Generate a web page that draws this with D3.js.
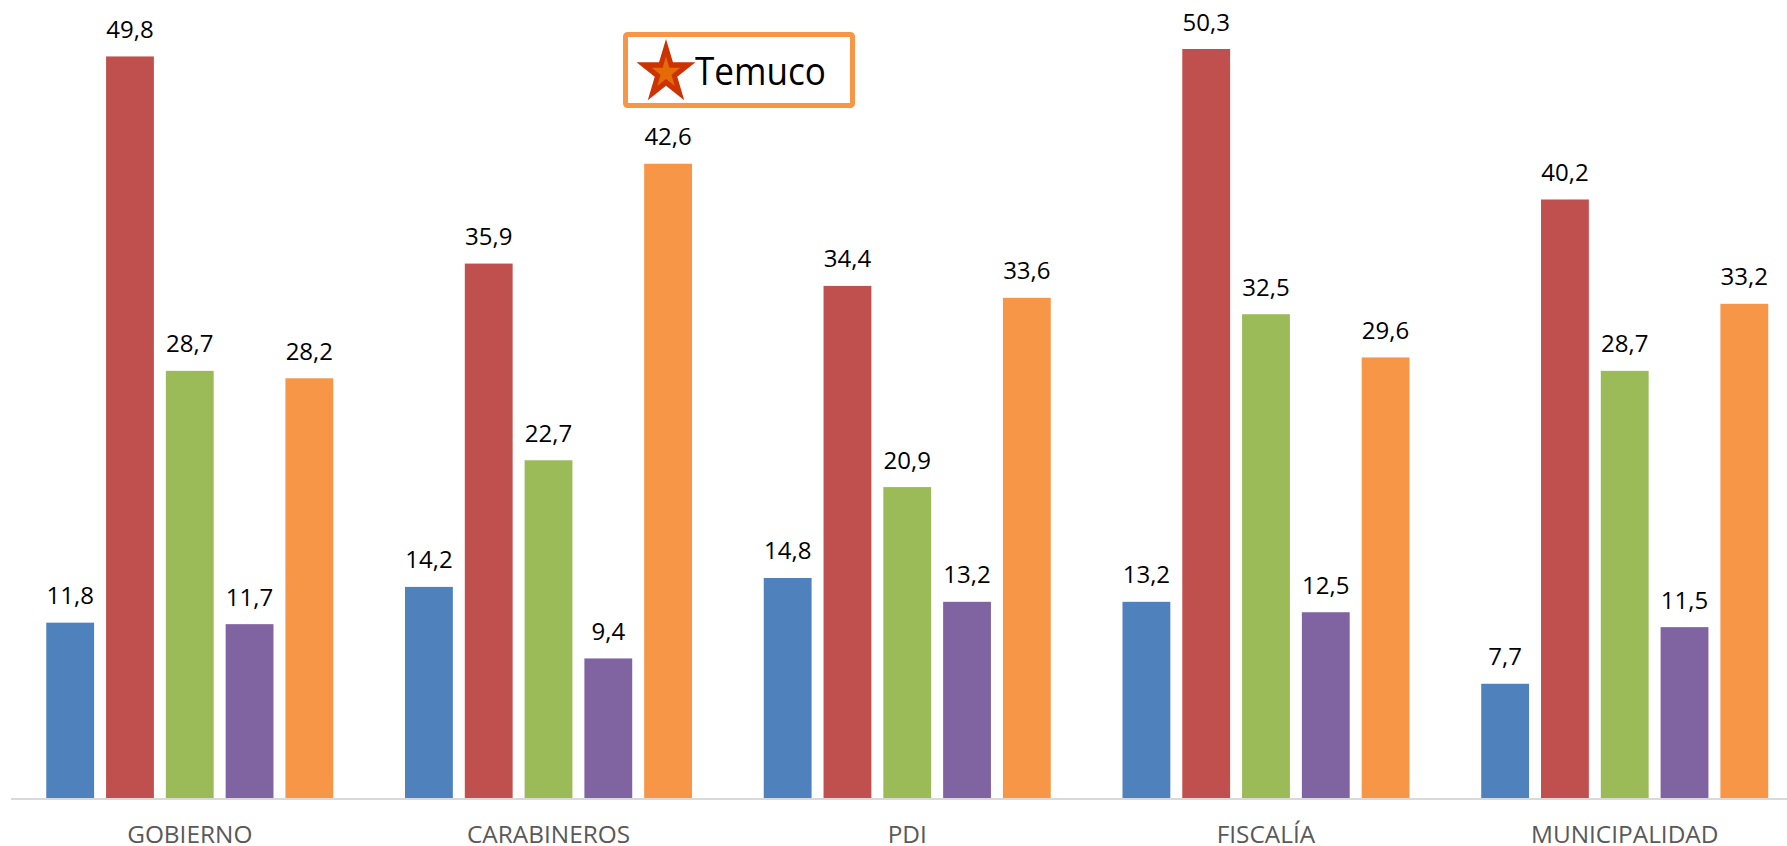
<!DOCTYPE html>
<html>
<head>
<meta charset="utf-8">
<title>Temuco</title>
<style>
body { margin: 0; background: #fff; }
svg { display: block; }
text { font-family: "Open Sans", sans-serif; }
</style>
</head>
<body>
<svg width="1787" height="846"></svg>
<script src="https://d3js.org/d3.v7.min.js"></script>
<script>
var categories = ["GOBIERNO", "CARABINEROS", "PDI", "FISCALÍA", "MUNICIPALIDAD"];
var seriesNames = ["s1", "s2", "s3", "s4", "s5"];
var colors = ["#4f81bd", "#c0504d", "#9bbb59", "#8064a2", "#f79646"];
var s1 = [11.8, 14.2, 14.8, 13.2, 7.7];
var s2 = [49.8, 35.9, 34.4, 50.3, 40.2];
var s3 = [28.7, 22.7, 20.9, 32.5, 28.7];
var s4 = [11.7, 9.4, 13.2, 12.5, 11.5];
var s5 = [28.2, 42.6, 33.6, 29.6, 33.2];
var values = [s1, s2, s3, s4, s5];

var svg = d3.select("svg");
var baseline = 798.5;
var groupWidth = 287;
var fmt = function(v) { return v.toFixed(1).replace(".", ","); };

// the plot runs past the right edge of the picture, as in the original
var x0 = d3.scaleBand().domain(categories).range([10.4, 1804.1]);
var x1 = d3.scaleBand().domain(seriesNames).range([0, groupWidth]).paddingInner(0.2);
var y = d3.scaleLinear().domain([0, 50.3]).range([baseline, 49]);
var z = d3.scaleOrdinal().domain(seriesNames).range(colors);

var groups = svg.selectAll("g.group")
  .data(categories)
  .enter().append("g")
    .attr("class", "group")
    .attr("transform", function(d) {
      return "translate(" + (x0(d) + (x0.bandwidth() - groupWidth) / 2) + ",0)";
    });

var cells = groups.selectAll("g")
  .data(function(d, i) {
    return seriesNames.map(function(key, k) { return {key: key, value: values[k][i]}; });
  })
  .enter().append("g");

cells.append("rect")
  .attr("x", function(d) { return x1(d.key); })
  .attr("y", function(d) { return y(d.value); })
  .attr("width", x1.bandwidth())
  .attr("height", function(d) { return baseline - y(d.value); })
  .attr("fill", function(d) { return z(d.key); });

cells.append("text")
  .attr("x", function(d) { return x1(d.key) + x1.bandwidth() / 2; })
  .attr("y", function(d) { return y(d.value) - 18.5; })
  .attr("text-anchor", "middle")
  .attr("font-size", 24)
  .attr("fill", "#000")
  .text(function(d) { return fmt(d.value); });

// axis
var axis = svg.append("g")
  .attr("transform", "translate(0," + baseline + ")")
  .call(d3.axisBottom(x0).tickSize(0).tickPadding(0));
axis.select(".domain")
  .attr("stroke", "#d9d9d9")
  .attr("stroke-width", 2);
axis.selectAll("text")
  .attr("font-size", 24.4)
  .attr("font-family", "'Open Sans', sans-serif")
  .attr("fill", "#595959")
  .attr("dy", null)
  .attr("y", 44.5);

// Temuco box
var legend = svg.append("g");
legend.append("rect")
  .attr("x", 625.5).attr("y", 34.5)
  .attr("width", 227).attr("height", 71)
  .attr("rx", 2)
  .attr("fill", "#fff")
  .attr("stroke", "#f79646")
  .attr("stroke-width", 5);
// star is a little taller than wide in the original
legend.append("path")
  .attr("transform", "translate(666,72.8) scale(1,1.09)")
  .attr("d", d3.symbol(d3.symbolStar, 1079)())
  .attr("fill", "#cc3300");
legend.append("path")
  .attr("transform", "translate(666,72.8) scale(1,1.09)")
  .attr("d", d3.symbol(d3.symbolStar, 253)())
  .attr("fill", "#e36c09");
legend.append("text")
  .attr("x", 695).attr("y", 85)
  .attr("font-size", 38)
  .attr("textLength", 131)
  .attr("lengthAdjust", "spacingAndGlyphs")
  .attr("fill", "#000")
  .text("Temuco");
</script>
</body>
</html>
